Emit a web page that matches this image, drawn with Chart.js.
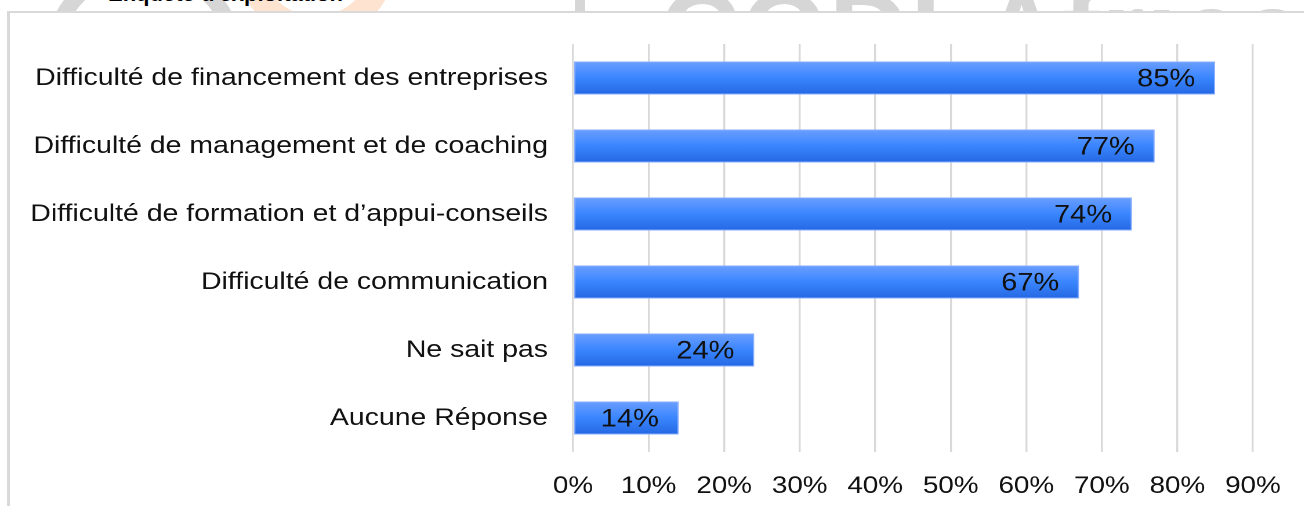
<!DOCTYPE html>
<html>
<head>
<meta charset="utf-8">
<script src="https://cdn.jsdelivr.net/npm/chart.js@4.4.1/dist/chart.umd.min.js"></script>
<style>
  html, body { margin:0; padding:0; background:#fff; }
  body { width:1304px; height:506px; position:relative; overflow:hidden; font-family:"Liberation Sans", Arial, sans-serif; }
  #strip { position:absolute; left:0; top:0; width:1304px; height:12px; overflow:hidden; z-index:0; }
  #ring { position:absolute; left:44px; top:-40px; width:200px; height:200px; border:16px solid #d6d6d6; border-radius:50%; box-sizing:border-box; }
  #orange { position:absolute; left:236px; top:-120px; width:160px; height:160px; border:24px solid #fde3d0; border-radius:50%; box-sizing:border-box; }
  #wm { position:absolute; left:660px; top:-34px; font:bold 110px "Liberation Sans", Arial, sans-serif; color:#d6d6d6; white-space:nowrap; letter-spacing:2px; }
  #bar { position:absolute; left:575px; top:0; width:10px; height:12px; background:#d6d6d6; }
  #head { position:absolute; left:108px; top:-19px; font:bold 22px "Liberation Sans", Arial, sans-serif; color:#000; white-space:nowrap; }
  #frame { position:absolute; left:7px; top:11px; width:1320px; height:520px; background:#fff; border-left:3px solid #d9d9d9; border-top:2px solid #d9d9d9; z-index:1; }
  #wrap { position:absolute; left:0; top:0; width:1124.1px; height:506px; transform:scaleX(1.16); transform-origin:0 0; z-index:2; }
</style>
</head>
<body>
<div id="strip">
  <div id="ring"></div>
  <div id="orange"></div>
  <div id="head">Enquête d'exploitation</div>
  <div id="bar"></div>
  <div id="wm">CODI-Africa</div>
</div>
<div id="frame"></div>
<div id="wrap"><canvas id="c"></canvas></div>
<script>
const categories = [
  "Difficulté de financement des entreprises",
  "Difficulté de management et de coaching",
  "Difficulté de formation et d’appui-conseils",
  "Difficulté de communication",
  "Ne sait pas",
  "Aucune Réponse"
];
const values = [85, 77, 74, 67, 24, 14];
const valueLabels = ["85%", "77%", "74%", "67%", "24%", "14%"];
const tickLabels = ["0%", "10%", "20%", "30%", "40%", "50%", "60%", "70%", "80%", "90%"];

const FONT = '"Liberation Sans", Arial, sans-serif';
const BAR_PCT = 0.485;

function barGradient(ctx) {
  const chart = ctx.chart;
  const ys = chart.scales && chart.scales.y;
  if (!ys || ctx.dataIndex === undefined) return '#3a86ff';
  const yc = ys.getPixelForValue(ctx.dataIndex);
  const y1 = ys.getPixelForValue(1);
  const y0 = ys.getPixelForValue(0);
  if (!isFinite(yc) || !isFinite(y1) || !isFinite(y0)) return '#3a86ff';
  const step = Math.abs(y1 - y0) || 68;
  const h = step * BAR_PCT;
  const g = chart.ctx.createLinearGradient(0, yc - h / 2, 0, yc + h / 2);
  g.addColorStop(0, '#6b9eff');
  g.addColorStop(0.5, '#3a86ff');
  g.addColorStop(1, '#2468e2');
  return g;
}

const dataLabelPlugin = {
  id: 'dataLabels',
  afterDatasetsDraw(chart) {
    const c = chart.ctx;
    const meta = chart.getDatasetMeta(0);
    c.save();
    c.font = '25px ' + FONT;
    c.fillStyle = '#111';
    c.textAlign = 'right';
    c.textBaseline = 'middle';
    meta.data.forEach((el, i) => {
      c.fillText(valueLabels[i], el.x - 17.2, el.y + 1.5);
    });
    c.restore();
  }
};

new Chart(document.getElementById('c'), {
  type: 'bar',
  data: {
    labels: categories,
    datasets: [{
      data: values,
      backgroundColor: barGradient,
      borderColor: '#86adff',
      borderWidth: 1,
      borderSkipped: false,
      barPercentage: BAR_PCT,
      categoryPercentage: 1
    }]
  },
  options: {
    indexAxis: 'y',
    responsive: true,
    maintainAspectRatio: false,
    animation: false,
    devicePixelRatio: 2,
    layout: { padding: { top: 44, right: 43.9, bottom: 0, left: 0 } },
    plugins: { legend: { display: false }, tooltip: { enabled: false } },
    scales: {
      x: {
        min: 0, max: 90,
        ticks: {
          stepSize: 10,
          color: '#111',
          font: { family: FONT, size: 24 },
          padding: 20,
          maxRotation: 0,
          callback: (v, i) => tickLabels[i]
        },
        grid: { color: '#d9d9d9', lineWidth: 1.7, drawTicks: false },
        border: { display: false },
        afterFit: s => { s.height = 54; }
      },
      y: {
        ticks: {
          color: '#111',
          font: { family: FONT, size: 24.5 },
          padding: 21.6
        },
        grid: { display: false, drawTicks: false },
        border: { display: false },
        afterFit: s => { s.width = 494.0; }
      }
    }
  },
  plugins: [dataLabelPlugin]
});
</script>
</body>
</html>
